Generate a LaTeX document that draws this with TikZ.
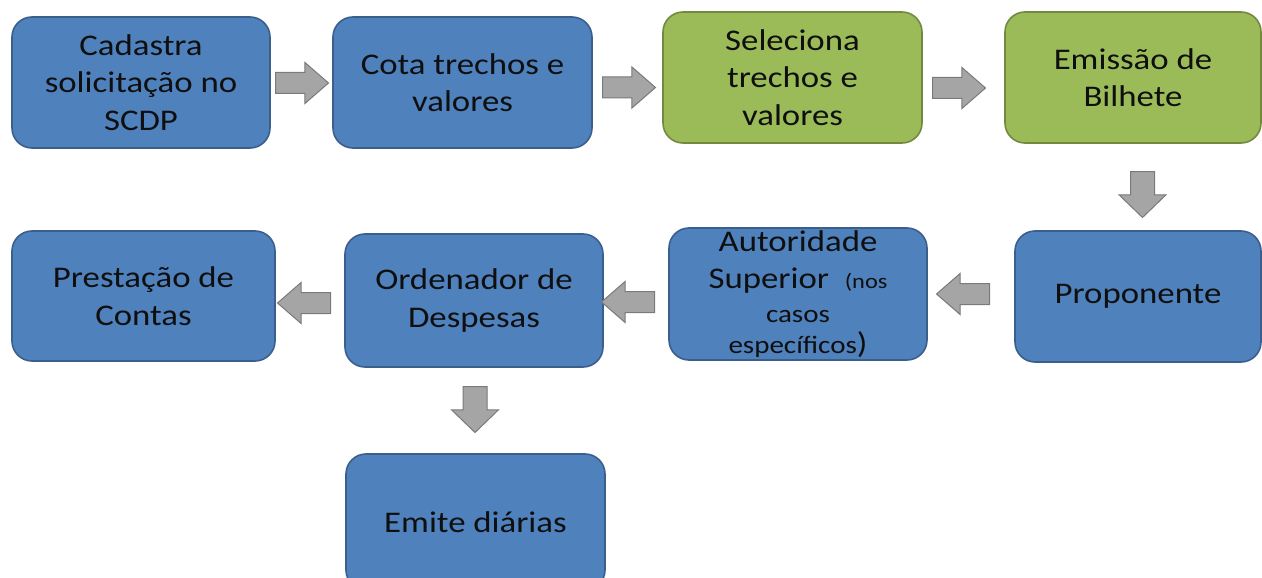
\documentclass[tikz,border=0pt]{standalone}
\usepackage{fontspec}
\setmainfont{Carlito}[FakeStretch=1.16]
\usetikzlibrary{shapes.arrows}
\definecolor{bluefill}{HTML}{4F81BD}
\definecolor{blueline}{HTML}{3A5F8C}
\definecolor{greenfill}{HTML}{9BBB59}
\definecolor{greenline}{HTML}{73893F}
\definecolor{arrfill}{HTML}{A5A5A5}
\definecolor{arrline}{HTML}{7A7A7A}
\definecolor{txt}{HTML}{0F0F0F}
\begin{document}
\begin{tikzpicture}[x=1pt,y=-1pt,
  box/.style={draw=blueline, fill=bluefill, line width=1.6pt, rounded corners=20pt,
    align=center, inner sep=0pt, text=txt, font=\fontsize{30}{37.5}\selectfont},
  gbox/.style={box, draw=greenline, fill=greenfill},
  harrow/.style={single arrow, draw=arrline, fill=arrfill, line width=1pt, inner sep=10pt,
    minimum height=53pt, minimum width=40pt, single arrow head extend=10pt,
    single arrow tip angle=82, anchor=tail},
  varrow/.style={single arrow, draw=arrline, fill=arrfill, line width=1pt, inner sep=11.5pt,
    minimum height=46pt, minimum width=46pt, single arrow head extend=11.5pt,
    single arrow tip angle=92, shape border rotate=270, anchor=tail},
  larrow/.style={harrow, shape border rotate=180}]
\useasboundingbox (0,0) rectangle (1262,578);
\clip (0,0) rectangle (1262,578);
% top row
\node[box, minimum width=258pt, minimum height=131pt] (b1) at (141,82.5) {Cadastra\\solicitação no\\SCDP};
\node[box, minimum width=259pt, minimum height=131pt] (b2) at (462.5,82.5) {Cota trechos e\\valores};
\node[gbox, minimum width=259pt, minimum height=131pt] (b3) at (792.5,77.5) {Seleciona\\trechos e\\valores};
\node[gbox, minimum width=256pt, minimum height=131pt] (b4) at (1133,77.5) {Emissão de\\Bilhete};
% middle row
\node[box, minimum width=246pt, minimum height=131pt] (p) at (1138,296.5) {Proponente};
\node[box, minimum width=258pt, minimum height=132pt] (au) at (798,294)
  {Autoridade\\Superior\ \ {\fontsize{21}{25}\selectfont(nos}\\[-4pt]
   {\fontsize{25}{30}\selectfont casos}\\[-6pt]
   {\fontsize{25}{30}\selectfont específicos})};
\node[box, minimum width=258pt, minimum height=133pt] (od) at (474,300.5) {Ordenador de\\Despesas};
\node[box, minimum width=263pt, minimum height=130pt] (pc) at (143.5,296) {Prestação de\\Contas};
% bottom
\node[box, minimum width=259pt, minimum height=136pt] (em) at (475.5,522) {Emite diárias};
% block arrows (placed by their tails)
\node[harrow] (a1) at (275,83) {};
\node[harrow] (a2) at (602,87.5) {};
\node[harrow] (a3) at (932,88) {};
\node[varrow] (d1) at (1142.5,171) {};
\node[larrow] (l1) at (990,294) {};
\node[larrow] (l2) at (655,302) {};
\node[larrow] (l3) at (331,303) {};
\node[varrow] (d2) at (475,386) {};
\end{tikzpicture}
\end{document}
